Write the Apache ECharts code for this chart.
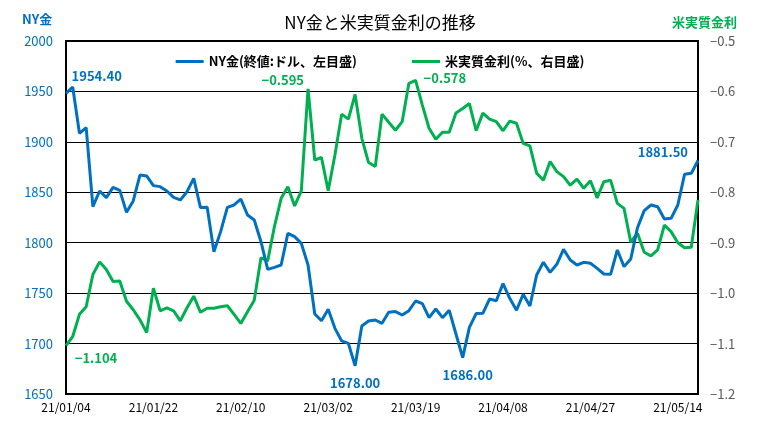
<!DOCTYPE html>
<html style="height: 100%">
<head>
<meta charset="utf-8">
<script type="text/javascript" src="https://cdn.jsdelivr.net/npm/echarts@6/dist/echarts.min.js"></script>
</head>
<body style="height: 100%; margin: 0; background: #fff">
<div id="container" style="width: 760px; height: 425px;"></div>
<script type="text/javascript">
// 営業日ベースの日付 (21/01/04 - 21/05/19)
var dates = [
  '21/01/04','21/01/05','21/01/06','21/01/07','21/01/08','21/01/11','21/01/12','21/01/13','21/01/14','21/01/15',
  '21/01/19','21/01/20','21/01/21','21/01/22','21/01/25','21/01/26','21/01/27','21/01/28','21/01/29',
  '21/02/01','21/02/02','21/02/03','21/02/04','21/02/05','21/02/08','21/02/09','21/02/10','21/02/11','21/02/12',
  '21/02/16','21/02/17','21/02/18','21/02/19','21/02/22','21/02/23','21/02/24','21/02/25','21/02/26',
  '21/03/01','21/03/02','21/03/03','21/03/04','21/03/05','21/03/08','21/03/09','21/03/10','21/03/11','21/03/12',
  '21/03/15','21/03/16','21/03/17','21/03/18','21/03/19','21/03/22','21/03/23','21/03/24','21/03/25','21/03/26',
  '21/03/29','21/03/30','21/03/31',
  '21/04/01','21/04/05','21/04/06','21/04/07','21/04/08','21/04/09','21/04/12','21/04/13','21/04/14','21/04/15',
  '21/04/16','21/04/19','21/04/20','21/04/21','21/04/22','21/04/23','21/04/26','21/04/27','21/04/28','21/04/29','21/04/30',
  '21/05/03','21/05/04','21/05/05','21/05/06','21/05/07','21/05/10','21/05/11','21/05/12','21/05/13','21/05/14',
  '21/05/17','21/05/18','21/05/19'
];

// NY金 終値(ドル)
var gold = [
  1948.1,1954.4,1908.5,1914.1,1835.7,1851.3,1844.7,1854.9,1851.9,1830.1,
  1841.4,1867.1,1866.2,1856.6,1855.6,1851.3,1845.0,1842.4,1850.6,1863.8,
  1834.8,1835.1,1791.1,1811.0,1835.1,1837.4,1843.3,1827.5,1822.5,1801.0,
  1773.6,1775.6,1777.9,1809.3,1806.0,1799.4,1777.9,1729.3,1722.7,1734.0,
  1715.1,1702.6,1700.2,1678.0,1717.4,1722.4,1723.4,1720.1,1731.0,1731.7,
  1728.3,1732.6,1742.2,1739.6,1725.7,1734.3,1725.7,1733.0,1709.5,1686.0,
  1716.1,1729.7,1730.0,1744.2,1742.5,1759.4,1744.9,1733.0,1748.8,1737.3,
  1768.0,1780.6,1770.6,1778.6,1793.4,1782.9,1777.9,1780.6,1779.6,1774.6,
  1769.0,1768.7,1792.8,1776.3,1783.9,1814.9,1831.8,1837.4,1835.7,1823.5,
  1824.2,1837.4,1867.8,1868.8,1881.5
];

// 米実質金利(%)
var realRate = [
  -1.104,-1.086,-1.042,-1.027,-0.963,-0.938,-0.953,-0.977,-0.976,-1.016,
  -1.033,-1.053,-1.078,-0.990,-1.035,-1.029,-1.035,-1.055,-1.029,-1.006,
  -1.038,-1.030,-1.030,-1.027,-1.025,-1.042,-1.060,-1.037,-1.014,-0.930,
  -0.936,-0.868,-0.812,-0.789,-0.827,-0.797,-0.595,-0.736,-0.731,-0.797,
  -0.726,-0.645,-0.655,-0.606,-0.693,-0.741,-0.749,-0.645,-0.661,-0.677,
  -0.660,-0.584,-0.578,-0.627,-0.673,-0.695,-0.681,-0.681,-0.643,-0.634,
  -0.624,-0.678,-0.643,-0.655,-0.660,-0.678,-0.659,-0.663,-0.703,-0.708,
  -0.762,-0.776,-0.739,-0.759,-0.769,-0.786,-0.774,-0.792,-0.777,-0.811,
  -0.779,-0.776,-0.822,-0.832,-0.899,-0.881,-0.919,-0.926,-0.914,-0.865,
  -0.878,-0.900,-0.910,-0.909,-0.815
];

var BLUE = '#0070C0';
var GREEN = '#00B050';
var FONT = '"Noto Sans CJK JP", "Liberation Sans", sans-serif';

function minus(s) { return String(s).replace('-', '\u2212'); }

// 注記を付ける点
var goldNotes = {
  1:  { position: 'top', offset: [24, 0], distance: 4 },
  43: { position: 'bottom', distance: 11 },
  59: { position: 'bottom', offset: [5, 0], distance: 11 },
  94: { position: 'left', offset: [0, -8], distance: 10 }
};
var rateNotes = {
  0:  { position: 'bottom', offset: [30, 0], distance: 6 },
  36: { position: 'left', offset: [0, -9], distance: 4 },
  52: { position: 'right', offset: [2, -2], distance: 6 }
};

function build(values, notes, color, fmt) {
  return values.map(function (v, i) {
    var n = notes[i];
    if (!n) return v;
    return {
      value: v,
      label: {
        show: true,
        position: n.position,
        offset: n.offset || [0, 0],
        distance: n.distance,
        color: color,
        fontSize: 13,
        fontWeight: 'bold',
        fontFamily: FONT,
        formatter: function () { return fmt(v); }
      }
    };
  });
}

var myChart = echarts.init(document.getElementById('container'));
var option = {
  backgroundColor: '#fff',
  animation: false,
  textStyle: { fontFamily: FONT },
  title: [
    { text: 'NY金と米実質金利の推移', left: 'center', top: 9,
      textStyle: { fontSize: 17, fontWeight: 'normal', color: '#000', fontFamily: FONT } },
    { text: 'NY金', left: 17, top: 8,
      textStyle: { fontSize: 13, fontWeight: 'bold', color: BLUE, fontFamily: FONT } },
    { text: '米実質金利', right: 18, top: 11,
      textStyle: { fontSize: 13, fontWeight: 'bold', color: GREEN, fontFamily: FONT } }
  ],
  legend: {
    top: 50,
    left: 'center',
    itemGap: 55,
    itemWidth: 28,
    itemHeight: 3,
    icon: 'rect',
    textStyle: { fontSize: 13, fontWeight: 'bold', color: '#000', fontFamily: FONT },
    data: ['NY金(終値:ドル、左目盛)', '米実質金利(%、右目盛)']
  },
  grid: {
    left: 66, right: 62, top: 41, bottom: 31,
    show: true, borderColor: '#000', borderWidth: 2
  },
  xAxis: {
    type: 'category',
    data: dates,
    boundaryGap: false,
    axisLine: { lineStyle: { color: '#000', width: 2 } },
    axisTick: { show: false },
    axisLabel: { interval: 12, color: '#000', fontSize: 12, margin: 7, fontFamily: FONT }
  },
  yAxis: [
    {
      type: 'value', min: 1650, max: 2000, interval: 50,
      axisLine: { show: true, lineStyle: { color: '#000', width: 2 } },
      axisTick: { show: false },
      axisLabel: {
        color: BLUE, fontSize: 13, margin: 13, fontFamily: FONT,
        formatter: function (v) { return String(v); }
      },
      splitLine: { lineStyle: { color: '#000', width: 1 } }
    },
    {
      type: 'value', min: -1.2, max: -0.5, interval: 0.1,
      axisLine: { show: true, lineStyle: { color: '#000', width: 2 } },
      axisTick: { show: false },
      axisLabel: {
        color: '#595959', fontSize: 13, margin: 12, fontFamily: FONT,
        formatter: function (v) { return minus(v.toFixed(1)); }
      },
      splitLine: { show: false }
    }
  ],
  series: [
    {
      name: 'NY金(終値:ドル、左目盛)',
      type: 'line',
      yAxisIndex: 0,
      data: build(gold, goldNotes, BLUE, function (v) { return v.toFixed(2); }),
      symbol: 'circle', symbolSize: 0, showAllSymbol: true,
      lineStyle: { color: BLUE, width: 3 },
      itemStyle: { color: BLUE },
      z: 3
    },
    {
      name: '米実質金利(%、右目盛)',
      type: 'line',
      yAxisIndex: 1,
      data: build(realRate, rateNotes, GREEN, function (v) { return minus(v.toFixed(3)); }),
      symbol: 'circle', symbolSize: 0, showAllSymbol: true,
      lineStyle: { color: GREEN, width: 3 },
      itemStyle: { color: GREEN },
      z: 2
    }
  ]
};
myChart.setOption(option, true);
</script>
</body>
</html>
